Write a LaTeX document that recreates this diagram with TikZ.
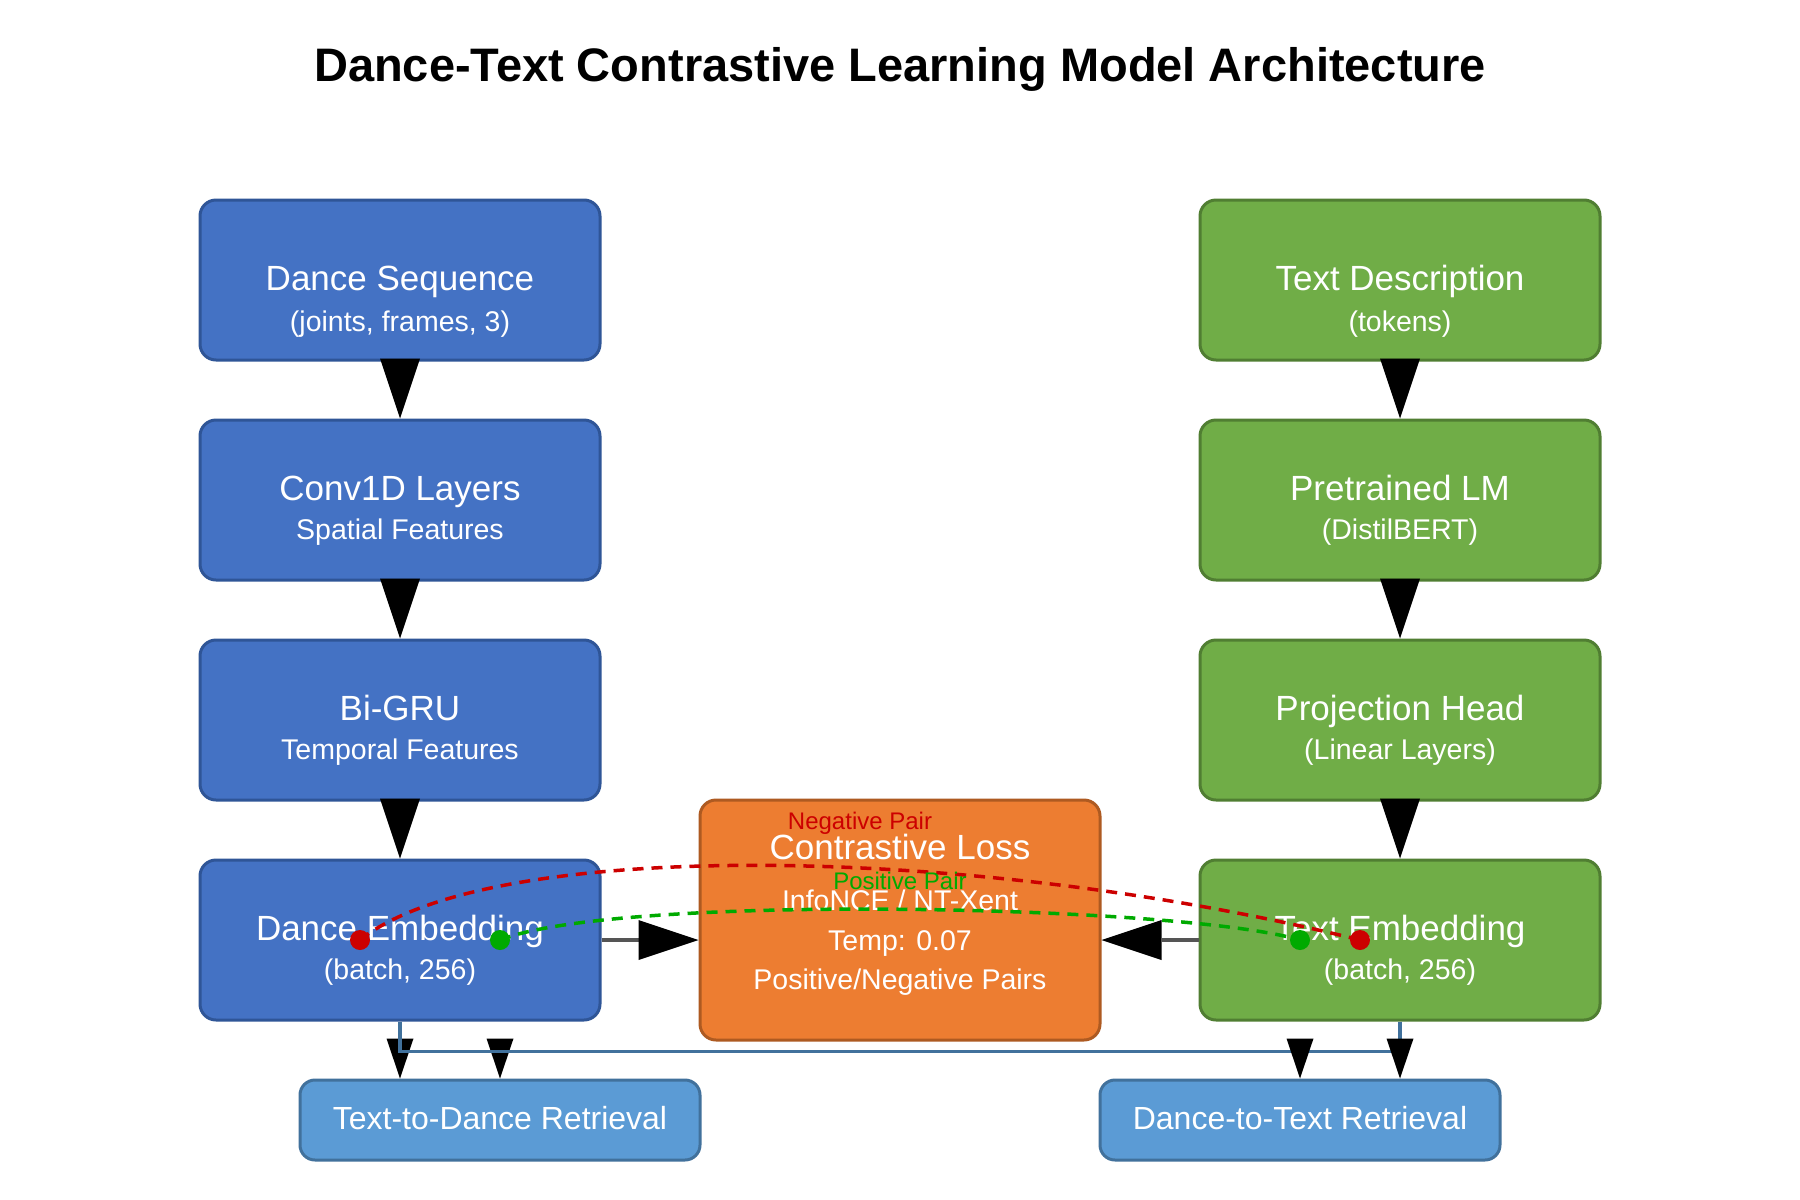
\documentclass[tikz,border=0pt]{standalone}
\usepackage{fontspec}
\setmainfont{Liberation Sans}
\usetikzlibrary{arrows.meta,calc}
\definecolor{bfill}{HTML}{4472C4}
\definecolor{bdraw}{HTML}{2F5597}
\definecolor{gfill}{HTML}{70AD47}
\definecolor{gdraw}{HTML}{507E32}
\definecolor{ofill}{HTML}{ED7D31}
\definecolor{odraw}{HTML}{AE5A21}
\definecolor{lfill}{HTML}{5B9BD5}
\definecolor{ldraw}{HTML}{41719C}
\definecolor{negred}{HTML}{CC0000}
\definecolor{posgreen}{HTML}{00AA00}
\definecolor{arrgray}{HTML}{555555}
\begin{document}
\begin{tikzpicture}[x=0.5pt,y=-0.5pt,
  box/.style={rectangle,rounded corners=8pt,line width=1.5pt,minimum width=200pt,minimum height=80pt,inner sep=0pt},
  bluebox/.style={box,fill=bfill,draw=bdraw},
  greenbox/.style={box,fill=gfill,draw=gdraw},
  lossbox/.style={box,fill=ofill,draw=odraw,minimum height=120pt},
  retbox/.style={box,fill=lfill,draw=ldraw,minimum height=40pt,rounded corners=7.5pt},
  maintxt/.style={anchor=base,text=white,inner sep=0pt,font=\fontsize{17.5pt}{20pt}\selectfont},
  subtxt/.style={anchor=base,text=white,inner sep=0pt,font=\fontsize{14.25pt}{17pt}\selectfont},
  rettxt/.style={anchor=base,text=white,inner sep=0pt,font=\fontsize{16pt}{19pt}\selectfont},
  pairtxt/.style={anchor=base,inner sep=0pt,font=\fontsize{12pt}{14pt}\selectfont},
  varrow/.style={line width=1pt,draw=black,-{Triangle[length=30pt,width=20pt,line width=0pt,color=black]}},
  harrow/.style={line width=2.25pt,draw=arrgray,-{Triangle[length=30pt,width=20pt,line width=0pt,color=black]}},
  barrow/.style={line width=1.75pt,draw=ldraw,-{Triangle[length=20pt,width=13.5pt,line width=0pt,color=black]}},
  pairline/.style={line width=1.75pt,dash pattern=on 5.5pt off 4pt},
  dot/.style={circle,inner sep=0pt,minimum size=10pt}
]
\useasboundingbox (0,0) rectangle (1800,1200);
\fill[white] (0,0) rectangle (1800,1200);

% title
\node[anchor=base,inner sep=0pt,font=\fontsize{23.5pt}{28pt}\selectfont\bfseries] (title) at (900,81) {Dance-Text Contrastive Learning Model Architecture};

% left column
\node[bluebox] (ds) at (400,280) {};
\node[bluebox] (cv) at (400,500) {};
\node[bluebox] (gru) at (400,720) {};
\node[bluebox] (de) at (400,940) {};
% right column
\node[greenbox] (tdesc) at (1400,280) {};
\node[greenbox] (lm) at (1400,500) {};
\node[greenbox] (ph) at (1400,720) {};
\node[greenbox] (te) at (1400,940) {};
% loss
\node[lossbox] (cl) at (900,920) {};
% retrieval
\node[retbox] (rtd) at (500,1120) {};
\node[retbox] (rdt) at (1300,1120) {};

% texts
\node[maintxt] (dsA) at (400,290) {Dance Sequence};
\node[subtxt] (dsB) at (400,331) {(joints, frames, 3)};
\node[maintxt] (cvA) at (400,500) {Conv1D Layers};
\node[subtxt] (cvB) at (400,539) {Spatial Features};
\node[maintxt] (gruA) at (400,720) {Bi-GRU};
\node[subtxt] (gruB) at (400,759) {Temporal Features};
\node[maintxt] (deA) at (400,940) {Dance Embedding};
\node[subtxt] (deB) at (400,979) {(batch, 256)};

\node[maintxt] (tdA) at (1400,290) {Text Description};
\node[subtxt] (tdB) at (1400,331) {(tokens)};
\node[maintxt] (lmA) at (1400,500) {Pretrained LM};
\node[subtxt] (lmB) at (1400,539) {(DistilBERT)};
\node[maintxt] (phA) at (1400,720) {Projection Head};
\node[subtxt] (phB) at (1400,759) {(Linear Layers)};
\node[maintxt] (teA) at (1400,940) {Text Embedding};
\node[subtxt] (teB) at (1400,979) {(batch, 256)};

\node[maintxt] (clA) at (900,859) {Contrastive Loss};
\node[subtxt] (clB) at (900,910) {InfoNCE / NT-Xent};
\node[subtxt] (clC) at (900,950) {Temp: 0.07};
\node[subtxt] (clD) at (900,989) {Positive/Negative Pairs};

\node[rettxt] (rtdA) at (500,1129) {Text-to-Dance Retrieval};
\node[rettxt] (rdtA) at (1300,1129) {Dance-to-Text Retrieval};

% vertical arrows
\draw[varrow] (ds) -- (cv);
\draw[varrow] (cv) -- (gru);
\draw[varrow] (gru) -- (de);
\draw[varrow] (tdesc) -- (lm);
\draw[varrow] (lm) -- (ph);
\draw[varrow] (ph) -- (te);

% horizontal arrows into loss
\draw[harrow] (de.east) -- (de.east -| cl.west);
\draw[harrow] (te.west) -- (te.west -| cl.east);

% retrieval connectors
\draw[barrow] (de.south) -- (de.south |- rtd.north);
\draw[barrow] (te.south) -- ++(0,30) -| (rtd.north);
\draw[barrow] (te.south) -- (te.south |- rdt.north);
\draw[barrow] (de.south) -- ++(0,30) -| (rdt.north);

% pair curves
\node[dot] (r1) at (360,940) {};
\node[dot] (r2) at (1360,940) {};
\node[dot] (g1) at (500,940) {};
\node[dot] (g2) at (1300,940) {};
\draw[pairline,draw=negred] (r1.center) .. controls (490,836) and (980,845) .. (r2.center);
\draw[pairline,draw=posgreen] (g1.center) .. controls (618,893) and (1182,905) .. (g2.center);
\fill[negred] (r1) circle[radius=5pt];
\fill[negred] (r2) circle[radius=5pt];
\fill[posgreen] (g1) circle[radius=5pt];
\fill[posgreen] (g2) circle[radius=5pt];
\node[pairtxt,text=negred] (negl) at (860,829) {Negative Pair};
\node[pairtxt,text=posgreen] (posl) at (900,889) {Positive Pair};
\end{tikzpicture}
\end{document}
